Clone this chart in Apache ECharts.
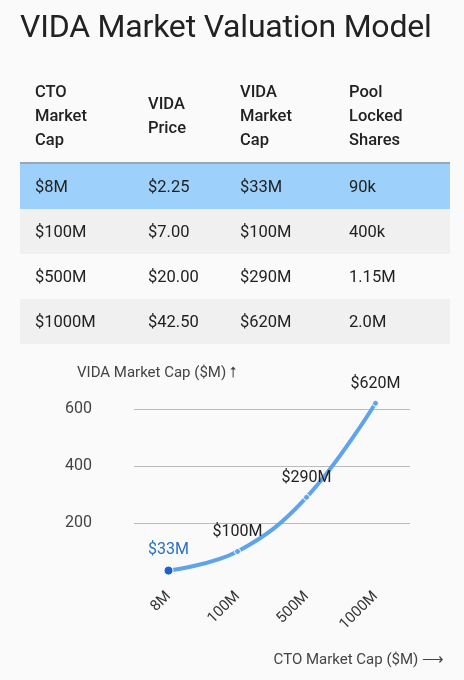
<!DOCTYPE html>
<html><head><meta charset="utf-8">
<script src="https://cdn.jsdelivr.net/npm/echarts@6/dist/echarts.min.js"></script>
<style>
html,body{margin:0;padding:0;background:#fafafa;font-family:Roboto,"Noto Sans",sans-serif;color:#222;}
h1{position:absolute;left:20px;top:7px;margin:0;font-weight:400;font-size:32px;color:#222;letter-spacing:-0.2px}
table{position:absolute;left:20px;top:70px;width:430px;border-collapse:collapse;font-size:16.5px;table-layout:fixed}
th{text-align:left;font-weight:500;line-height:24px;height:92px;padding:0 0 0 15px;border-bottom:2px solid #9aa7b3;vertical-align:middle}
td{height:45px;padding:0 0 0 15px;}
tr.r1{background:#9dd1fb}tr.r2{background:#f1f0f0}tr.r3{background:#fafafa}tr.r4{background:#f1f0f0}
#c{position:absolute;left:0;top:0;width:464px;height:680px}
</style></head><body>
<div id="c"></div>
<h1>VIDA Market Valuation Model</h1>
<table id="t"></table>
<script>
const headers=["CTO<br>Market<br>Cap","VIDA<br>Price","VIDA<br>Market<br>Cap","Pool<br>Locked<br>Shares"];
const ctoCap=["$8M","$100M","$500M","$1000M"];
const vidaPrice=["$2.25","$7.00","$20.00","$42.50"];
const vidaCapLabel=["$33M","$100M","$290M","$620M"];
const poolShares=["90k","400k","1.15M","2.0M"];
const categories=["8M","100M","500M","1000M"];
const vidaCap=[33,100,290,620];
const widths=[98,77,94,101];
let h='<tr>'+headers.map((x,i)=>`<th style="width:${widths[i]}px">${x}</th>`).join('')+'</tr>';
for(let i=0;i<4;i++)h+=`<tr class="r${i+1}"><td>${ctoCap[i]}</td><td>${vidaPrice[i]}</td><td>${vidaCapLabel[i]}</td><td>${poolShares[i]}</td></tr>`;
document.getElementById('t').innerHTML=h;
const ch=echarts.init(document.getElementById('c'));
ch.setOption({
 animation:false,
 grid:{left:134,right:54,top:409,bottom:100,containLabel:false},
 xAxis:{type:'category',data:categories,boundaryGap:true,axisLine:{show:false},axisTick:{show:false},
  axisLabel:{rotate:45,color:'#333',fontSize:15,margin:14,fontFamily:'Roboto'}},
 yAxis:{type:'value',min:0,max:600,interval:200,axisLine:{show:false},axisTick:{show:false},
  splitLine:{showMinLine:false,lineStyle:{color:'#bbb',width:1}},
  axisLabel:{color:'#444',fontSize:16,margin:42,fontFamily:'Roboto',formatter:v=>v===0?'':v}},
 graphic:[
  {type:'text',left:77,top:366,style:{text:'VIDA Market Cap ($M) ⭡',fontSize:15,fill:'#444',fontFamily:'Roboto'}},
  {type:'text',right:20,top:653,style:{text:'CTO Market Cap ($M) ⟶',fontSize:15,fill:'#444',fontFamily:'Roboto'}}
 ],
 series:[{type:'line',data:vidaCap.map((v,i)=>i===0?{value:v,symbolSize:9,itemStyle:{color:'#1e62c8'},label:{color:'#2a6fc0'}}:v),
  smooth:0.4,clip:false,symbol:'circle',symbolSize:6,
  lineStyle:{color:'#5ea3ec',width:4},itemStyle:{color:'#5ea3ec',borderColor:'#fff',borderWidth:1},
  label:{show:true,position:'top',distance:8,fontSize:16,color:'#222',fontFamily:'Roboto',formatter:p=>vidaCapLabel[p.dataIndex]}}]
});
</script></body></html>
